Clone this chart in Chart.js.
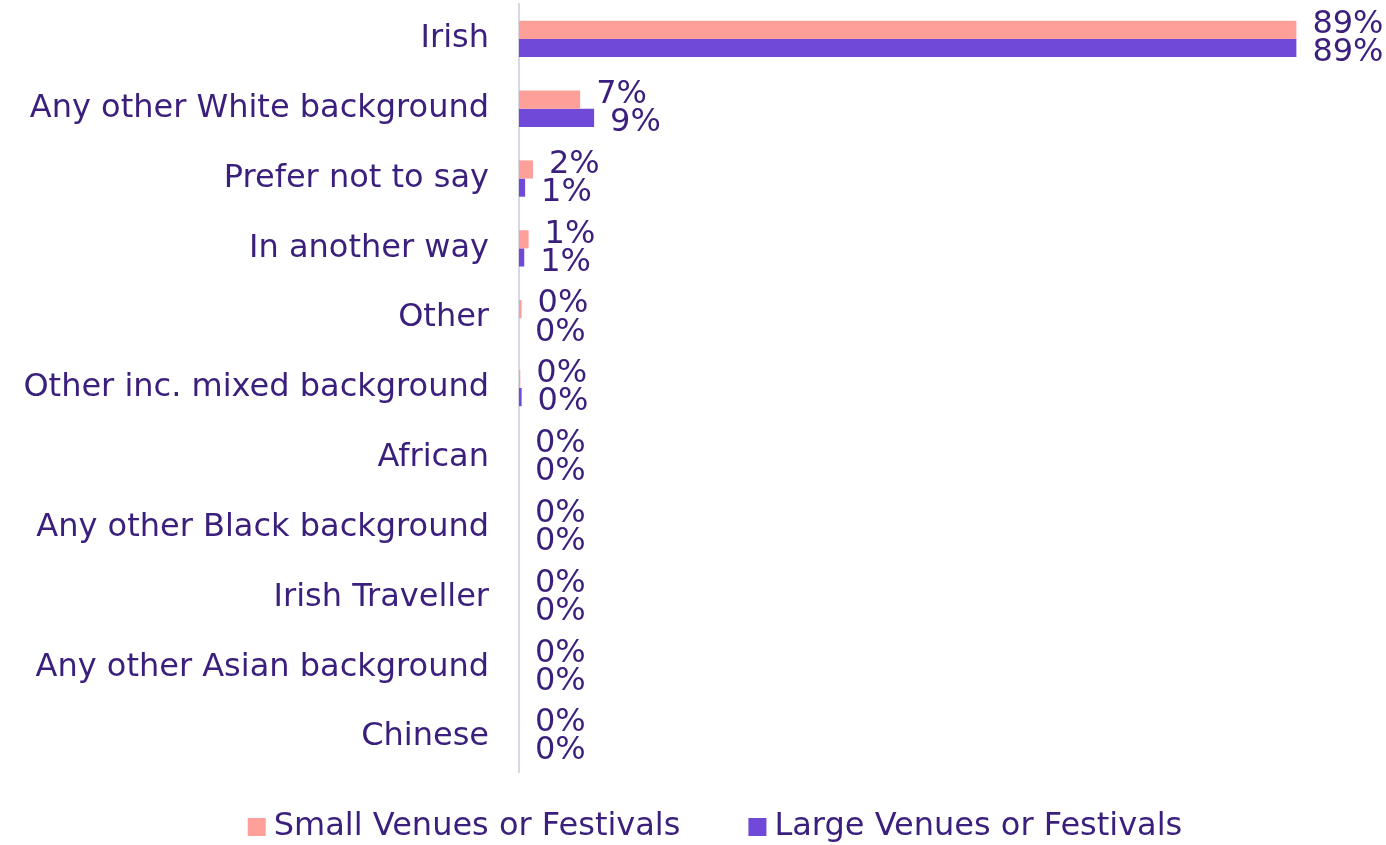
<!DOCTYPE html>
<html>
<head>
<meta charset="utf-8">
<script src="https://cdn.jsdelivr.net/npm/chart.js@4"></script>
<style>
  html, body { margin: 0; padding: 0; background: #fff; }
  #wrap { width: 1386px; height: 845px; position: relative; }
</style>
</head>
<body>
<div id="wrap"><canvas id="c"></canvas></div>
<script>
const categories = [
  'Irish', 'Any other White background', 'Prefer not to say', 'In another way', 'Other',
  'Other inc. mixed background', 'African', 'Any other Black background', 'Irish Traveller',
  'Any other Asian background', 'Chinese'
];
const smallVenues = [89, 7, 1.6, 1.1, 0.3, 0.15, 0, 0, 0, 0, 0];
const largeVenues = [89, 8.6, 0.7, 0.6, 0, 0.3, 0, 0, 0, 0, 0];
const smallLabels = ['89%', '7%', '2%', '1%', '0%', '0%', '0%', '0%', '0%', '0%', '0%'];
const largeLabels = ['89%', '9%', '1%', '1%', '0%', '0%', '0%', '0%', '0%', '0%', '0%'];

const textColor = '#3a1f7d';
const fontFamily = '"DejaVu Sans", sans-serif';
const fontSize = 32;

// Draws the percent labels just past the end of each bar
const barLabels = {
  id: 'barLabels',
  afterDatasetsDraw: (chart) => {
    const {ctx} = chart;
    const texts = [smallLabels, largeLabels];
    const nudge = [-5, 5];
    ctx.save();
    ctx.font = fontSize + 'px ' + fontFamily;
    ctx.fillStyle = textColor;
    ctx.textAlign = 'left';
    ctx.textBaseline = 'middle';
    chart.data.datasets.forEach((ds, di) => {
      chart.getDatasetMeta(di).data.forEach((bar, i) => {
        ctx.fillText(texts[di][i], bar.x + 16, bar.y + nudge[di]);
      });
    });
    ctx.restore();
  }
};

// Legend drawn by hand so the gap between the two entries can be wide
const wideLegend = {
  id: 'wideLegend',
  afterDraw: (chart) => {
    const {ctx} = chart;
    const box = 18, gap = 8, spacing = 68;
    ctx.save();
    ctx.font = fontSize + 'px ' + fontFamily;
    ctx.textBaseline = 'middle';
    ctx.textAlign = 'left';
    const items = chart.data.datasets.map(ds => ({
      text: ds.label,
      color: ds.backgroundColor,
      w: box + gap + ctx.measureText(ds.label).width
    }));
    const total = items.reduce((s, it) => s + it.w, 0) + spacing * (items.length - 1);
    let x = chart.width / 2 + 22 - total / 2;
    const y = chart.height - 18;
    items.forEach(it => {
      ctx.fillStyle = it.color;
      ctx.fillRect(x, y - box / 2, box, box);
      ctx.fillStyle = textColor;
      ctx.fillText(it.text, x + box + gap, y);
      x += it.w + spacing;
    });
    ctx.restore();
  }
};

new Chart(document.getElementById('c'), {
  type: 'bar',
  data: {
    labels: categories,
    datasets: [
      {
        label: 'Small Venues or Festivals',
        data: smallVenues,
        backgroundColor: '#ff9f9a',
        categoryPercentage: 0.52,
        barPercentage: 1.0
      },
      {
        label: 'Large Venues or Festivals',
        data: largeVenues,
        backgroundColor: '#7049d8',
        categoryPercentage: 0.52,
        barPercentage: 1.0
      }
    ]
  },
  options: {
    indexAxis: 'y',
    responsive: true,
    maintainAspectRatio: false,
    animation: false,
    layout: { padding: { top: 4, right: 11, left: 0, bottom: 73 } },
    scales: {
      x: {
        min: 0,
        max: 98,
        display: false
      },
      y: {
        grid: { display: false, drawTicks: false },
        border: { display: true, color: '#d5d9e3', width: 2 },
        ticks: {
          color: textColor,
          padding: 30,
          font: { family: fontFamily, size: fontSize }
        },
        afterFit: (scale) => {
          scale.width = 519;
          scale.paddingTop = 0;
          scale.paddingBottom = 0;
        }
      }
    },
    plugins: {
      legend: { display: false },
      tooltip: { enabled: false }
    }
  },
  plugins: [barLabels, wideLegend]
});
</script>
</body>
</html>
